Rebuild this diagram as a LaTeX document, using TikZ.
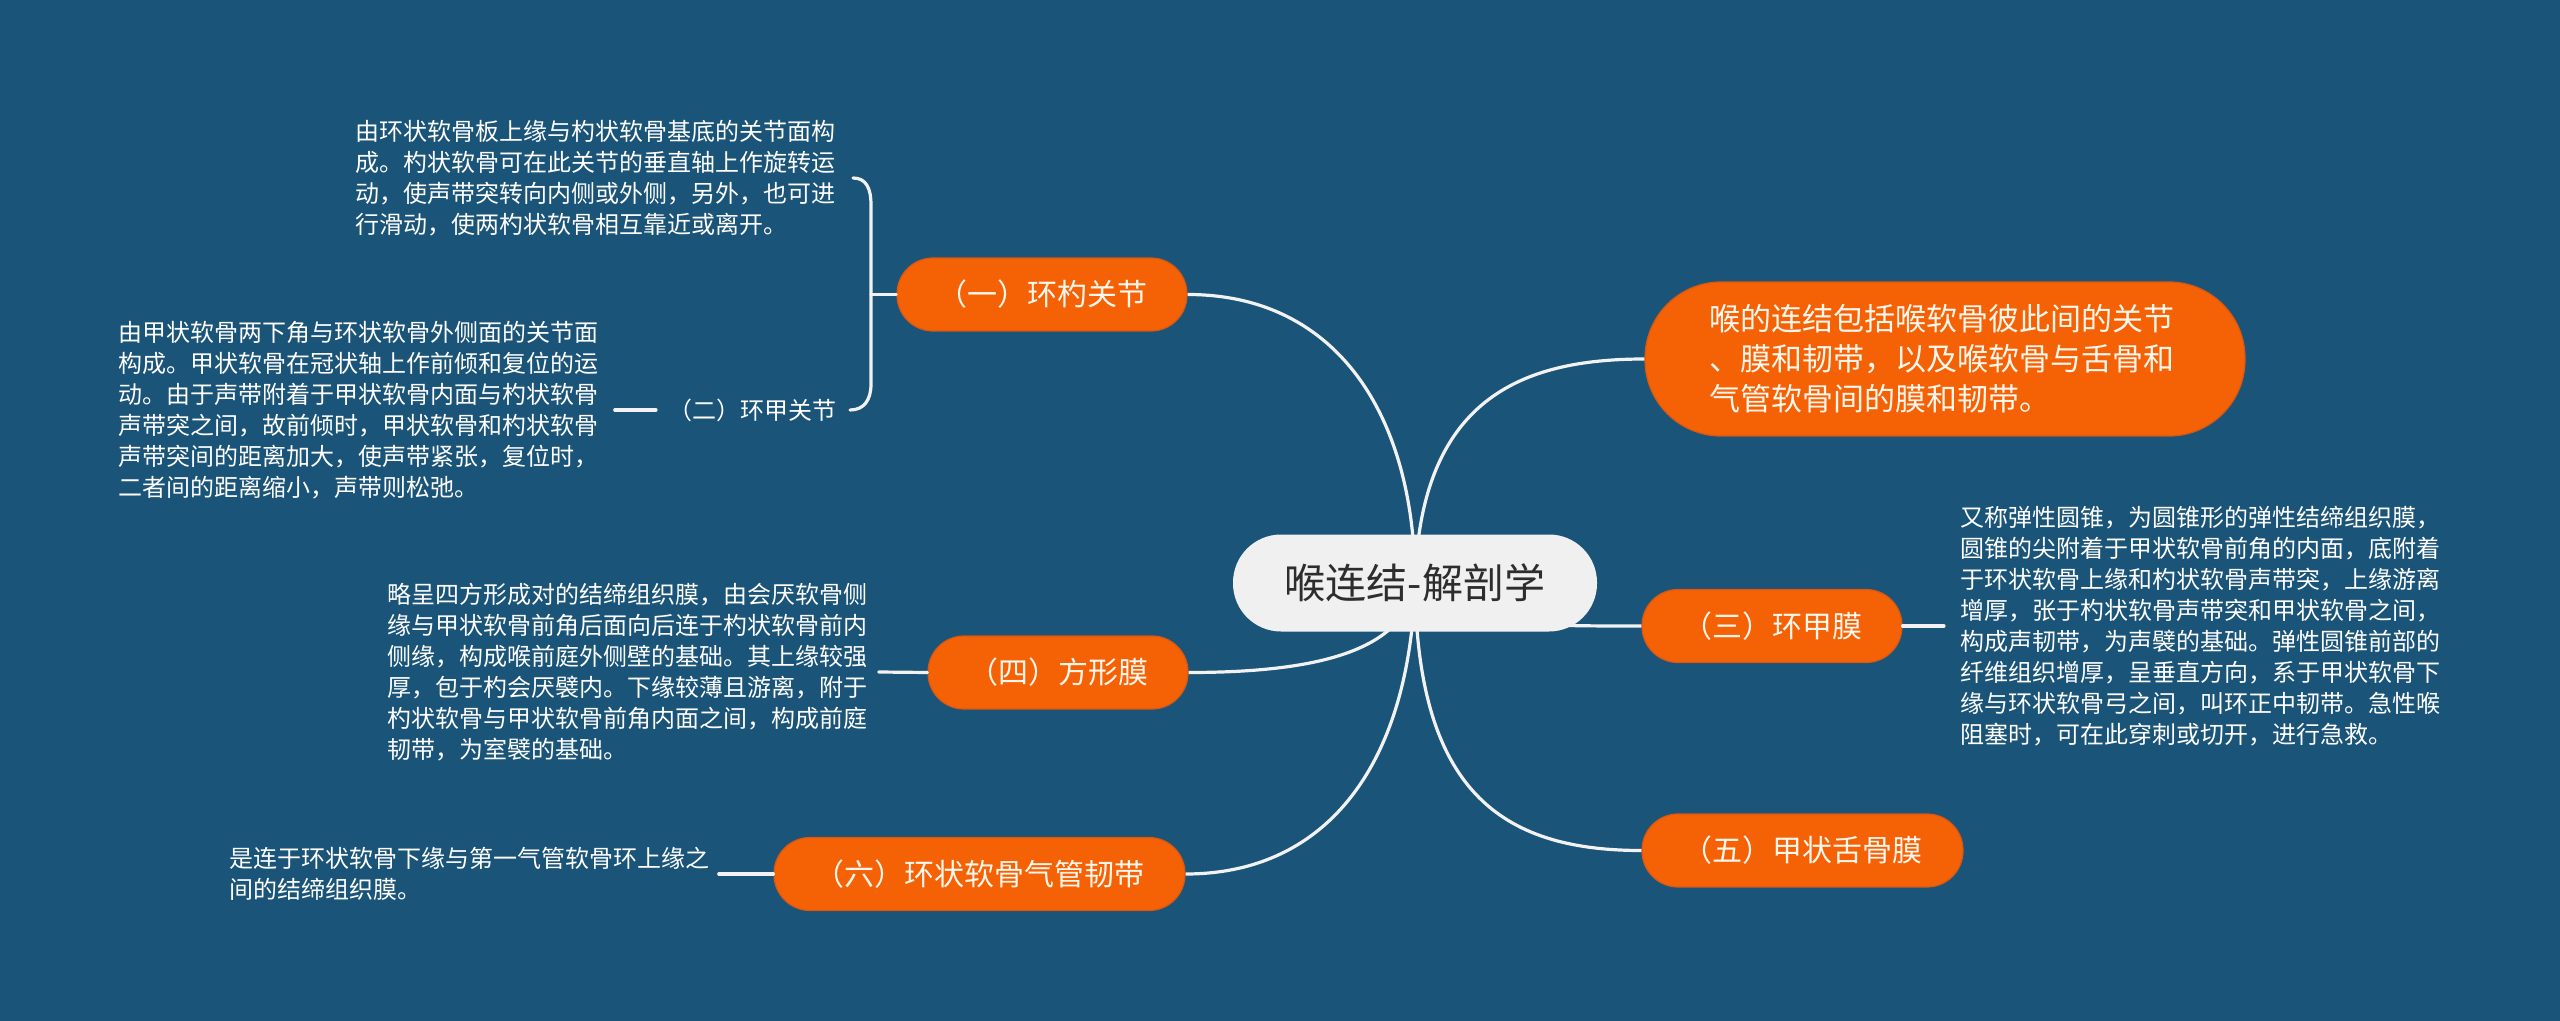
\documentclass[tikz,border=0pt]{standalone}
\usepackage{fontspec}
\setmainfont{Noto Sans CJK SC}
\definecolor{bgC}{RGB}{26,84,120}
\definecolor{orC}{RGB}{245,97,5}
\definecolor{orD}{RGB}{214,88,20}
\definecolor{lnC}{RGB}{242,242,242}
\definecolor{rootC}{RGB}{240,240,240}
\definecolor{rootT}{RGB}{45,45,45}
\definecolor{brT}{RGB}{255,246,236}
\pgfdeclarelayer{back}
\pgfdeclarelayer{bg}
\pgfsetlayers{back,bg,main}
\tikzset{
  rootbox/.style={rectangle, rounded corners=24pt, fill=rootC, text=rootT,
    minimum width=182pt, minimum height=48.5pt, inner sep=0pt,
    font=\fontsize{20.5}{24}\selectfont},
  branchbox/.style={rectangle, rounded corners=18pt, fill=orC, draw=orD, line width=0.6pt,
    text=brT, minimum height=36.5pt, inner sep=0pt, font=\fontsize{15}{18}\selectfont},
  bigbox/.style={rectangle, rounded corners=38pt, fill=orC, draw=orD, line width=0.6pt,
    text=brT, minimum height=77pt, inner xsep=32pt, inner ysep=0pt, text width=236pt,
    align=left, font=\fontsize{15.5}{20}\selectfont},
  leaftext/.style={text=white, inner sep=0pt, anchor=west, align=left,
    font=\fontsize{12}{15.5}\selectfont},
  conn/.style={draw=lnC, line width=1.6pt, line cap=round}
}
\begin{document}
\begin{tikzpicture}[x=0.5pt,y=-0.5pt]
\begin{pgfonlayer}{back}
\fill[bgC] (0,0) rectangle (2560,1021);
\end{pgfonlayer}
\useasboundingbox (0,0) rectangle (2560,1021);

% nodes
\node[rootbox] (root) at (1415,583) {喉连结-解剖学};
\node[bigbox] (n0) at (1945,359) {喉的连结包括喉软骨彼此间的关节\\、膜和韧带，以及喉软骨与舌骨和\\气管软骨间的膜和韧带。};
\node[branchbox, minimum width=145pt] (n1) at (1042,294.5) {（一）环杓关节};
\node[branchbox, minimum width=130pt] (n3) at (1772,626) {（三）环甲膜};
\node[branchbox, minimum width=160.5pt] (n5) at (1802.5,850.5) {（五）甲状舌骨膜};
\node[branchbox, minimum width=130pt] (n4) at (1058,672.5) {（四）方形膜};
\node[branchbox, minimum width=205.5pt] (n6) at (979.5,874) {（六）环状软骨气管韧带};
\node[leaftext] (n2) at (668,410) {（二）环甲关节};

\node[leaftext] (l1) at (355,178) {由环状软骨板上缘与杓状软骨基底的关节面构\\成。杓状软骨可在此关节的垂直轴上作旋转运\\动，使声带突转向内侧或外侧，另外，也可进\\行滑动，使两杓状软骨相互靠近或离开。};
\node[leaftext] (l2) at (118,410) {由甲状软骨两下角与环状软骨外侧面的关节面\\构成。甲状软骨在冠状轴上作前倾和复位的运\\动。由于声带附着于甲状软骨内面与杓状软骨\\声带突之间，故前倾时，甲状软骨和杓状软骨\\声带突间的距离加大，使声带紧张，复位时，\\二者间的距离缩小，声带则松弛。};
\node[leaftext] (l3) at (1960,626) {又称弹性圆锥，为圆锥形的弹性结缔组织膜，\\圆锥的尖附着于甲状软骨前角的内面，底附着\\于环状软骨上缘和杓状软骨声带突，上缘游离\\增厚，张于杓状软骨声带突和甲状软骨之间，\\构成声韧带，为声襞的基础。弹性圆锥前部的\\纤维组织增厚，呈垂直方向，系于甲状软骨下\\缘与环状软骨弓之间，叫环正中韧带。急性喉\\阻塞时，可在此穿刺或切开，进行急救。};
\node[leaftext] (l4) at (387,672) {略呈四方形成对的结缔组织膜，由会厌软骨侧\\缘与甲状软骨前角后面向后连于杓状软骨前内\\侧缘，构成喉前庭外侧壁的基础。其上缘较强\\厚，包于杓会厌襞内。下缘较薄且游离，附于\\杓状软骨与甲状软骨前角内面之间，构成前庭\\韧带，为室襞的基础。};
\node[leaftext] (l6) at (229,874) {是连于环状软骨下缘与第一气管软骨环上缘之\\间的结缔组织膜。};

\coordinate (bt) at (853,178);
\coordinate (bb) at (850,410);
\coordinate (bm) at (871,294.5);

\begin{pgfonlayer}{bg}
\draw[conn] (root.center) .. controls (1415,420) and (1340,294.5) .. (n1.east);
\draw[conn] (root.center) .. controls (1420,400) and (1520,359) .. (n0.west);
\draw[conn] (root.center) .. controls (1460,626) and (1520,626) .. (n3.west);
\draw[conn] (root.center) .. controls (1417,790) and (1500,850.5) .. (n5.west);
\draw[conn] (root.center) .. controls (1405,650) and (1320,672.5) .. (n4.east);
\draw[conn] (root.center) .. controls (1410,760) and (1330,874) .. (n6.east);
\end{pgfonlayer}

\draw[conn] (bt) .. controls (866,178) and (871,188) .. (871,205) -- (871,384) .. controls (871,400) and (864,410) .. (bb);
\draw[conn] (bm) -- (n1.west);
\draw[conn] ([xshift=8pt]l2.east) -- ([xshift=-6pt]n2.west);
\draw[conn] ([xshift=5.5pt]l4.east) -- (n4.west);
\draw[conn] ([xshift=4.5pt]l6.east) -- (n6.west);
\draw[conn] (n3.east) -- ([xshift=-8pt]l3.west);
\end{tikzpicture}
\end{document}
